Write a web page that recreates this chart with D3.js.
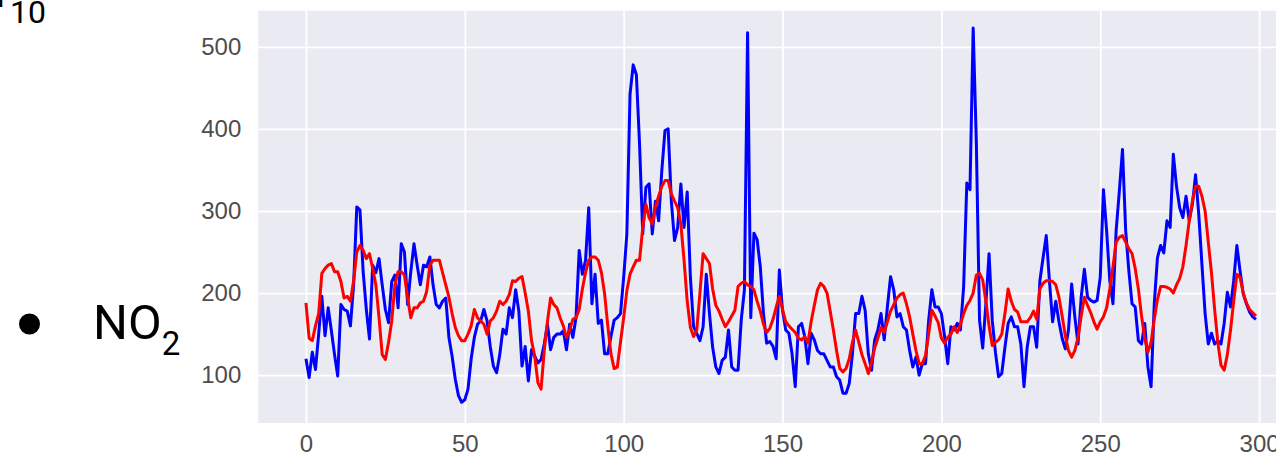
<!DOCTYPE html>
<html>
<head>
<meta charset="utf-8">
<script src="https://cdn.jsdelivr.net/npm/d3@7"></script>
<style>
    html, body { margin: 0; padding: 0; background: #fff; overflow: hidden; }
</style>
</head>
<body>
<div class="chart-wrapper"></div>
<script>
    // x ticks / y ticks
    var xTicks = [0, 50, 100, 150, 200, 250, 300];
    var yTicks = [100, 200, 300, 400, 500];

    // blue series (measured), one value per step 0..299
    var seriesBlue = [
        120, 97, 128, 107, 150, 196, 148, 182, 154, 125,
        99, 186, 180, 178, 160, 210, 305, 301, 226, 180,
        144, 234, 225, 242, 210, 180, 164, 214, 222, 182,
        260, 250, 186, 226, 260, 234, 210, 234, 232, 244,
        210, 186, 182, 190, 194, 146, 123, 95, 75, 67,
        70, 83, 120, 146, 162, 166, 180, 166, 135, 111,
        103, 125, 156, 150, 182, 170, 204, 178, 111, 135,
        93, 131, 123, 115, 119, 138, 162, 131, 146, 150,
        150, 154, 131, 162, 146, 170, 252, 223, 240, 304,
        187, 223, 163, 167, 126, 126, 147, 167, 170, 175,
        219, 272, 442, 478, 466, 381, 272, 329, 333, 272,
        312, 288, 349, 398, 400, 312, 264, 280, 333, 280,
        323, 219, 159, 151, 142, 159, 223, 175, 134, 110,
        102, 118, 122, 155, 110, 106, 106, 167, 204, 517,
        170, 273, 265, 232, 175, 139, 141, 135, 120, 228,
        179, 155, 151, 126, 86, 159, 163, 147, 114, 151,
        143, 130, 126, 126, 118, 110, 110, 98, 94, 78,
        78, 90, 126, 175, 175, 196, 179, 126, 106, 143,
        155, 175, 143, 183, 220, 204, 171, 175, 159, 155,
        130, 110, 122, 100, 114, 114, 167, 204, 183, 183,
        175, 147, 114, 159, 155, 163, 155, 208, 334, 326,
        523, 383, 167, 133, 187, 248, 167, 128, 98, 102,
        134, 163, 171, 159, 159, 138, 86, 134, 159, 159,
        134, 215, 243, 270, 215, 165, 190, 165, 145, 132,
        155, 211, 171, 138, 195, 229, 195, 191, 189, 191,
        219, 326, 276, 215, 187, 276, 324, 375, 276, 227,
        187, 183, 142, 138, 163, 110, 86, 187, 243, 258,
        249, 288, 280, 369, 330, 304, 292, 318, 288, 308,
        344, 296, 235, 175, 138, 151, 138, 142, 138, 163,
        201, 183, 215, 258, 227, 199, 187, 177, 171, 168
    ];

    // red series (predicted), one value per step 0..299
    var seriesRed = [
        188, 145, 142, 160, 175, 224, 230, 234, 236, 226,
        226, 214, 194, 196, 190, 215, 250, 258, 252, 242,
        248, 230, 210, 170, 125, 119, 140, 166, 210, 226,
        226, 222, 194, 170, 182, 182, 188, 190, 202, 234,
        240, 240, 240, 225, 210, 195, 175, 158, 148, 142,
        142, 150, 160, 180, 170, 166, 162, 150, 166, 170,
        178, 190, 186, 190, 198, 215, 214, 218, 220, 200,
        178, 142, 123, 91, 83, 130, 165, 194, 186, 182,
        170, 160, 146, 155, 168, 170, 180, 205, 225, 240,
        244, 244, 240, 225, 199, 160, 126, 108, 110, 140,
        170, 203, 223, 232, 240, 240, 280, 308, 292, 284,
        305, 318, 330, 337, 337, 321, 312, 304, 284, 240,
        190, 158, 147, 155, 200, 248, 242, 236, 205, 185,
        178, 168, 159, 165, 172, 179, 208, 212, 214, 210,
        208, 204, 190, 178, 162, 152, 157, 168, 183, 196,
        180, 165, 160, 156, 152, 145, 143, 147, 139, 165,
        185, 204, 212, 208, 200, 178, 155, 130, 108, 104,
        108, 120, 140, 155, 140, 125, 114, 102, 116, 133,
        145, 158, 152, 165, 178, 186, 194, 198, 200, 187,
        171, 150, 130, 114, 114, 124, 150, 179, 172, 164,
        145, 139, 146, 150, 159, 152, 162, 175, 185, 191,
        200, 222, 224, 216, 190, 160, 136, 140, 143, 150,
        175, 205, 190, 180, 177, 165, 165, 165, 170, 178,
        168, 205, 212, 215, 215, 214, 210, 195, 172, 148,
        130, 122, 130, 146, 172, 195, 185, 176, 165, 156,
        165, 171, 182, 205, 232, 262, 268, 270, 262, 254,
        248, 230, 205, 172, 145, 128, 140, 168, 192, 208,
        208, 207, 205, 200, 210, 218, 232, 258, 288, 312,
        330, 330, 318, 300, 262, 225, 180, 140, 112, 106,
        125, 155, 190, 223, 219, 200, 188, 180, 176, 172
    ];

    var width = 1276;
    var height = 462;
    var plot = {left: 258.3, right: 1303.6, top: 10.7, bottom: 423};

    var x = d3.scaleLinear()
        .domain([-15, 314])
        .range([plot.left, plot.right]);

    var y = d3.scaleLinear()
        .domain([41.7, 544])
        .range([plot.bottom, plot.top]);

    var svg = d3.select(".chart-wrapper").append("svg")
        .attr("width", width)
        .attr("height", height);

    // bullet text on the left (the previous bullet is cut at the top)
    var note = svg.append("g")
        .attr("font-family", "Roboto, 'Noto Sans', sans-serif")
        .attr("fill", "#000");
    var pm = note.append("text")
        .attr("x", -66).attr("y", 7)
        .attr("font-size", 48)
        .text("PM");
    pm.append("tspan")
        .attr("x", 10).attr("dy", 16)
        .attr("font-size", 32)
        .text("10");
    note.append("circle")
        .attr("cx", 29.5).attr("cy", 324)
        .attr("r", 10.5);
    var no2 = note.append("text")
        .attr("x", 93).attr("y", 339)
        .attr("font-size", 49)
        .text("NO");
    no2.append("tspan")
        .attr("dy", 16)
        .attr("font-size", 33)
        .text("2");

    svg.append("rect")
        .attr("x", plot.left)
        .attr("y", plot.top)
        .attr("width", plot.right - plot.left)
        .attr("height", plot.bottom - plot.top)
        .attr("fill", "#eaeaf2");

    var xAxis = d3.axisBottom(x)
        .tickValues(xTicks)
        .tickSize(-(plot.bottom - plot.top))
        .tickPadding(12);

    var yAxis = d3.axisLeft(y)
        .tickValues(yTicks)
        .tickSize(-(plot.right - plot.left))
        .tickPadding(17);

    var gx = svg.append("g")
        .attr("class", "x axis")
        .attr("transform", "translate(0," + plot.bottom + ")")
        .call(xAxis);

    var gy = svg.append("g")
        .attr("class", "y axis")
        .attr("transform", "translate(" + plot.left + ",0)")
        .call(yAxis);

    [gx, gy].forEach(function (g) {
        g.select(".domain").remove();
        g.selectAll(".tick line")
            .attr("stroke", "#fff")
            .attr("stroke-width", 1.8);
        g.selectAll(".tick text")
            .attr("fill", "#4d4d4d")
            .attr("font-family", "'Liberation Sans', Arial, sans-serif")
            .attr("font-size", 24);
    });
    gx.selectAll(".tick text").attr("dy", "0.71em").attr("y", 12);

    var line = d3.line()
        .x(function (d, i) { return x(i); })
        .y(function (d) { return y(d); });

    svg.append("path")
        .datum(seriesBlue)
        .attr("fill", "none")
        .attr("stroke", "#0000ff")
        .attr("stroke-width", 3)
        .attr("stroke-linejoin", "round")
        .attr("d", line);

    svg.append("path")
        .datum(seriesRed)
        .attr("fill", "none")
        .attr("stroke", "#ff0000")
        .attr("stroke-width", 3)
        .attr("stroke-linejoin", "round")
        .attr("d", line);
</script>
</body>
</html>
